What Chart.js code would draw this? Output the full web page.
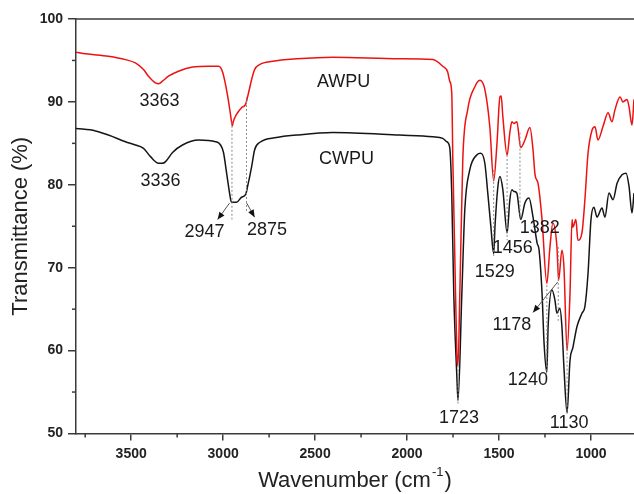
<!DOCTYPE html>
<html>
<head>
<meta charset="utf-8">
<script src="https://cdn.jsdelivr.net/npm/chart.js@4/dist/chart.umd.min.js"></script>
<style>
  html, body { margin: 0; padding: 0; background: #fff; }
  #wrap { width: 634px; height: 494px; }
</style>
</head>
<body>
<div id="wrap"><canvas id="myChart"></canvas></div>
<script>
// AWPU spectrum (red): wavenumber (cm-1) and transmittance (%)
const awpuWave = [3800, 3747, 3624, 3531, 3477, 3433, 3406, 3368, 3350, 3330, 3297, 3243, 3166, 3079, 3025,
  3003, 2976, 2960, 2950, 2945, 2927, 2900, 2878, 2867, 2845, 2829, 2802, 2731, 2600, 2404, 2040, 1860, 1806,
  1779, 1768, 1757, 1751, 1740, 1729, 1723, 1713, 1697, 1670, 1632, 1604, 1577, 1550, 1529, 1511, 1495, 1488,
  1479, 1456, 1441, 1430, 1419, 1403, 1382, 1359, 1332, 1315, 1304, 1288, 1266, 1240, 1223, 1207, 1185, 1176,
  1158, 1147, 1130, 1114, 1103, 1098, 1082, 1071, 1049, 1033, 1016, 994, 978, 962, 935, 907, 886, 869, 842,
  826, 804, 793, 777, 766];
const awpuT = [96.0, 95.8, 95.5, 95.1, 94.7, 93.9, 93.1, 92.3, 92.2, 92.5, 93.1, 93.7, 94.2, 94.3, 94.3,
  93.6, 90.8, 88.5, 87.1, 87.6, 88.5, 89.3, 89.7, 90.6, 92.7, 93.9, 94.5, 94.9, 95.2, 95.4, 95.2, 95.1, 94.3,
  93.6, 92.5, 91.1, 83.0, 71.0, 59.5, 58.2, 66.9, 83.0, 89.1, 91.8, 92.6, 91.5, 87.0, 80.5, 85.0, 90.6, 90.7,
  88.2, 83.6, 86.3, 87.6, 87.4, 87.6, 84.5, 85.4, 86.9, 84.2, 81.2, 80.2, 75.8, 68.1, 72.5, 75.4, 72.5, 68.5,
  72.1, 70.1, 60.0, 66.9, 75.8, 74.9, 75.8, 73.3, 74.2, 78.2, 83.8, 86.6, 87.0, 85.4, 87.0, 88.7, 87.6, 89.1, 90.6,
  90.0, 90.3, 89.4, 87.2, 90.3];

// CWPU spectrum (black)
const cwpuWave = [3800, 3694, 3624, 3531, 3477, 3433, 3395, 3351, 3330, 3313, 3275, 3221, 3134, 3041, 3014,
  2998, 2981, 2965, 2955, 2927, 2900, 2878, 2867, 2845, 2829, 2802, 2710, 2600, 2404, 2040, 1860, 1806, 1784,
  1768, 1757, 1746, 1729, 1723, 1702, 1686, 1659, 1621, 1599, 1577, 1561, 1544, 1529, 1522, 1506, 1495, 1479,
  1456, 1441, 1430, 1419, 1403, 1382, 1359, 1337, 1315, 1293, 1282, 1266, 1255, 1240, 1233, 1212, 1196, 1185,
  1169, 1158, 1147, 1130, 1114, 1098, 1076, 1049, 1033, 1016, 1000, 984, 967, 940, 924, 902, 880, 858, 831,
  809, 793, 777, 766];
const cwpuT = [86.8, 86.5, 86.0, 85.2, 84.8, 84.4, 83.4, 82.6, 82.6, 82.8, 83.9, 84.8, 85.4, 85.2, 84.8,
  83.9, 81.4, 79.0, 77.9, 77.9, 78.5, 78.8, 79.8, 82.2, 84.2, 85.1, 85.7, 86.0, 86.3, 86.0, 85.8, 85.6, 85.2,
  84.5, 79.0, 66.9, 56.8, 54.0, 66.9, 77.0, 81.8, 83.6, 83.8, 82.6, 79.0, 74.9, 71.7, 74.9, 79.8, 81.0, 79.4,
  74.2, 78.2, 79.4, 79.2, 79.0, 75.8, 77.8, 78.4, 76.1, 73.0, 72.1, 66.9, 60.9, 57.4, 62.9, 67.3, 66.1, 64.5,
  65.1, 62.9, 58.0, 52.5, 58.8, 60.4, 62.9, 64.5, 65.3, 69.3, 75.8, 77.3, 76.1, 77.2, 76.1, 79.0, 78.2, 80.2, 81.2,
  81.4, 79.8, 76.6, 79.0];

const seriesNames = ['AWPU', 'CWPU'];
const xTickValues = [1000, 1250, 1500, 1750, 2000, 2250, 2500, 2750, 3000, 3250, 3500, 3750];
const yTickValues = [50, 55, 60, 65, 70, 75, 80, 85, 90, 95, 100];

// where the texts and guide marks sit, in axis units
const labelSpots = [
  ['3363', 3346, 90.1], ['3336', 3340, 80.5], ['2947', 3101, 74.3], ['2875', 2761, 74.5],
  ['1723', 1718, 51.9], ['1529', 1523, 69.5], ['1456', 1425, 72.4], ['1382', 1278, 74.8],
  ['1240', 1343, 56.4], ['1178', 1430, 63.1], ['1130', 1119, 51.3],
  ['AWPU', 2345, 92.4], ['CWPU', 2329, 83.1]
];
const guides = [
  [2952, 87.6, 75.8], [2873, 90.6, 76.6], [1529, 81.8, 71.3], [1456, 83.6, 73.3], [1386, 86.3, 75.8],
  [1723, 58.2, 53.6], [1240, 67.9, 57.2], [1178, 72.5, 63.6], [1130, 61.2, 52.4]
];
const arrows = [
  [2965, 77.8, 3030, 75.8], [2872, 77.8, 2829, 76.1], [1180, 68.3, 1315, 64.6]
];

const fontFamily = '"Liberation Sans", Arial, sans-serif';

function toPoints(xs, ys) {
  return xs.map((v, i) => ({ x: v, y: ys[i] }));
}

const notesPlugin = {
  id: 'ftirNotes',
  afterDraw(chart) {
    const { ctx, chartArea, scales: { x, y } } = chart;
    ctx.save();

    // top frame line
    ctx.strokeStyle = '#3a3a3a';
    ctx.lineWidth = 1.5;
    ctx.beginPath();
    ctx.moveTo(chartArea.left, chartArea.top);
    ctx.lineTo(chartArea.right, chartArea.top);
    ctx.stroke();

    // minor ticks (short ones)
    xTickValues.filter(v => v % 500 !== 0).forEach(v => {
      const px = x.getPixelForValue(v);
      ctx.beginPath();
      ctx.moveTo(px, chartArea.bottom);
      ctx.lineTo(px, chartArea.bottom + 4);
      ctx.stroke();
    });
    yTickValues.filter(v => v % 10 !== 0).forEach(v => {
      const py = y.getPixelForValue(v);
      ctx.beginPath();
      ctx.moveTo(chartArea.left, py);
      ctx.lineTo(chartArea.left - 4, py);
      ctx.stroke();
    });

    // dotted guides between the two spectra
    ctx.setLineDash([2, 2]);
    ctx.strokeStyle = '#8a8a8a';
    ctx.lineWidth = 1;
    guides.forEach(g => {
      const px = x.getPixelForValue(g[0]);
      ctx.beginPath();
      ctx.moveTo(px, y.getPixelForValue(g[1]));
      ctx.lineTo(px, y.getPixelForValue(g[2]));
      ctx.stroke();
    });
    ctx.setLineDash([]);

    // arrows
    ctx.strokeStyle = '#555';
    ctx.fillStyle = '#111';
    ctx.lineWidth = 1;
    arrows.forEach(a => {
      const x1 = x.getPixelForValue(a[0]), y1 = y.getPixelForValue(a[1]);
      const x2 = x.getPixelForValue(a[2]), y2 = y.getPixelForValue(a[3]);
      ctx.beginPath();
      ctx.moveTo(x1, y1);
      ctx.lineTo(x2, y2);
      ctx.stroke();
      const ang = Math.atan2(y2 - y1, x2 - x1);
      ctx.beginPath();
      ctx.moveTo(x2, y2);
      ctx.lineTo(x2 - 8 * Math.cos(ang - 0.4), y2 - 8 * Math.sin(ang - 0.4));
      ctx.lineTo(x2 - 8 * Math.cos(ang + 0.4), y2 - 8 * Math.sin(ang + 0.4));
      ctx.closePath();
      ctx.fill();
    });

    // text labels
    ctx.fillStyle = '#1a1a1a';
    ctx.font = '18px ' + fontFamily;
    ctx.textAlign = 'center';
    ctx.textBaseline = 'middle';
    labelSpots.forEach(l => {
      ctx.fillText(l[0], x.getPixelForValue(l[1]), y.getPixelForValue(l[2]));
    });

    // x axis title with superscript
    const main = 'Wavenumber (cm';
    const sup = '-1';
    const tail = ')';
    ctx.fillStyle = '#222';
    ctx.textBaseline = 'alphabetic';
    ctx.textAlign = 'left';
    ctx.font = '22px ' + fontFamily;
    const wMain = ctx.measureText(main).width;
    const wTail = ctx.measureText(tail).width;
    ctx.font = '13px ' + fontFamily;
    const wSup = ctx.measureText(sup).width;
    const total = wMain + wSup + 2 + wTail;
    let tx = (chartArea.left + chartArea.right) / 2 - total / 2;
    const ty = 487;
    ctx.font = '22px ' + fontFamily;
    ctx.fillText(main, tx, ty);
    tx += wMain;
    ctx.font = '13px ' + fontFamily;
    ctx.fillText(sup, tx + 1, ty - 11);
    tx += wSup + 2;
    ctx.font = '22px ' + fontFamily;
    ctx.fillText(tail, tx, ty);

    ctx.restore();
  }
};

const config = {
  type: 'line',
  data: {
    datasets: [{
      label: seriesNames[0],
      data: toPoints(awpuWave, awpuT),
      borderColor: '#ee1111',
      borderWidth: 1.5,
      pointRadius: 0,
      cubicInterpolationMode: 'monotone'
    }, {
      label: seriesNames[1],
      data: toPoints(cwpuWave, cwpuT),
      borderColor: '#151515',
      borderWidth: 1.5,
      pointRadius: 0,
      cubicInterpolationMode: 'monotone'
    }]
  },
  options: {
    responsive: true,
    maintainAspectRatio: false,
    animation: false,
    layout: { padding: { top: 19, right: 0, left: 0, bottom: 0 } },
    plugins: { legend: { display: false }, tooltip: { enabled: false } },
    scales: {
      x: {
        type: 'linear',
        reverse: true,
        min: 766,
        max: 3800,
        afterFit(scale) { scale.height = 60.5; },
        afterBuildTicks(scale) { scale.ticks = xTickValues.map(v => ({ value: v })); },
        grid: {
          drawOnChartArea: false,
          tickLength: 7,
          lineWidth: 1.5,
          color: c => (c.tick && c.tick.value % 500 === 0) ? '#3a3a3a' : 'rgba(0,0,0,0)'
        },
        border: { color: '#3a3a3a', width: 1.5 },
        ticks: {
          autoSkip: false,
          maxRotation: 0,
          padding: 5,
          color: '#222',
          font: { family: fontFamily, size: 14, weight: 'bold' },
          callback: v => v % 500 === 0 ? String(v) : ''
        },
        title: { display: false }
      },
      y: {
        min: 50,
        max: 100,
        afterFit(scale) { scale.width = 76; },
        afterBuildTicks(scale) { scale.ticks = yTickValues.map(v => ({ value: v })); },
        grid: {
          drawOnChartArea: false,
          tickLength: 8,
          lineWidth: 1.5,
          color: c => (c.tick && c.tick.value % 10 === 0) ? '#3a3a3a' : 'rgba(0,0,0,0)'
        },
        border: { color: '#3a3a3a', width: 1.5 },
        ticks: {
          autoSkip: false,
          padding: 5,
          color: '#222',
          font: { family: fontFamily, size: 14, weight: 'bold' },
          callback: v => v % 10 === 0 ? String(v) : ''
        },
        title: {
          display: true,
          text: 'Transmittance (%)',
          color: '#222',
          font: { family: fontFamily, size: 22 },
          padding: { top: 8, bottom: 0 }
        }
      }
    }
  },
  plugins: [notesPlugin]
};

const myChart = new Chart(document.getElementById('myChart'), config);
</script>
</body>
</html>
